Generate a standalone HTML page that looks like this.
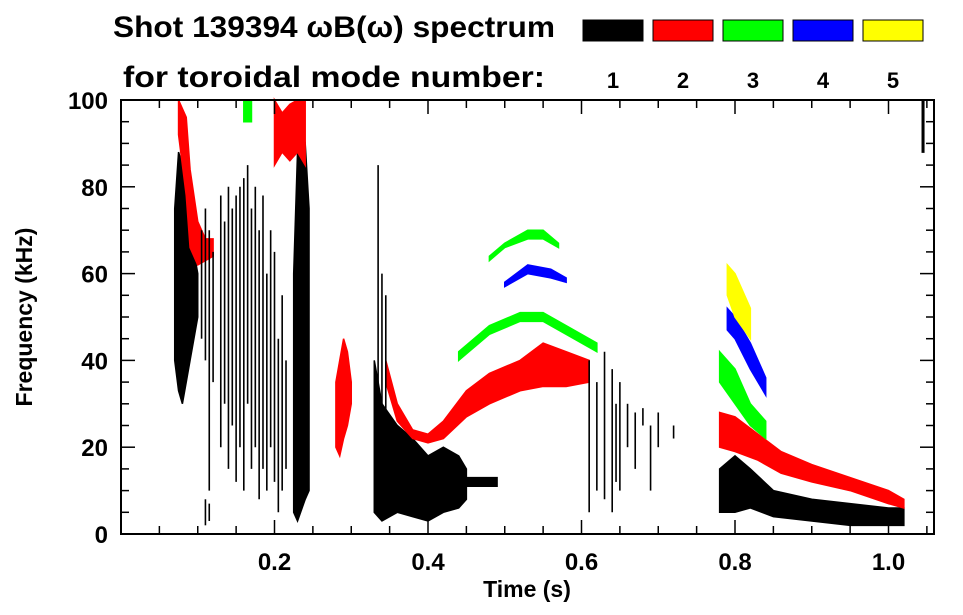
<!DOCTYPE html>
<html><head><meta charset="utf-8"><style>
body{margin:0;background:#fff;width:963px;height:615px;overflow:hidden}
svg{display:block;font-family:"Liberation Sans",sans-serif;font-weight:bold}
</style></head><body>
<svg id="c" width="963" height="615">
<text x="113" y="37" font-size="30" textLength="442" lengthAdjust="spacingAndGlyphs">Shot 139394 ωB(ω) spectrum</text>
<text x="123" y="87" font-size="30" textLength="422" lengthAdjust="spacingAndGlyphs">for toroidal mode number:</text>
<g id="legend"></g>
<g id="plot"></g>
<g id="axes"></g>
<text x="527" y="597" font-size="23" text-anchor="middle">Time (s)</text>
<text transform="translate(32,317) rotate(-90)" font-size="23" text-anchor="middle">Frequency (kHz)</text>
</svg>
<script>
const modes=["1","2","3","4","5"];
const modeColors=["#000","#f00","#0f0","#00f","#ff0"];
const xTicks=[0.2,0.4,0.6,0.8,1.0];
const yTicks=[0,20,40,60,80,100];
// bands: [mode, times, lo, hi]
const bandMode=[0,0,0,0,0,1,1,1,1,1,2,2,2,2,3,3,4,0];
const bandTimes=[
[0.07,0.075,0.08,0.085,0.09,0.095,0.10],
[0.225,0.23,0.24,0.245],
[0.33,0.34,0.36,0.38,0.40,0.42,0.44,0.45],
[0.45,0.47,0.49],
[0.78,0.8,0.82,0.85,0.9,0.95,1.0,1.02],
[0.075,0.085,0.09,0.10,0.11,0.12],
[0.20,0.21,0.22,0.23,0.24],
[0.28,0.285,0.29,0.295,0.30],
[0.345,0.36,0.38,0.40,0.42,0.45,0.48,0.52,0.55,0.58,0.61],
[0.78,0.8,0.83,0.86,0.9,0.95,1.0,1.02],
[0.44,0.48,0.52,0.55,0.58,0.62],
[0.48,0.5,0.53,0.55,0.57],
[0.78,0.8,0.82,0.84],
[0.16,0.165,0.17],
[0.5,0.53,0.56,0.58],
[0.79,0.8,0.82,0.84],
[0.79,0.8,0.82],
[1.044,1.045,1.046]];
const bandLo=[[40,33,30,35,40,45,50],[5,3,8,10],[5,3,5,4,3,5,6,8],[11,11,11],[5,5,6,4,3,2,2,2],
[92,78,66,62,63,64],[85,88,86,88,85],[20,18,22,25,30],[35,26,22,21,22,27,30,33,34,34,35],[20,19,17,14,12,10,7,6],
[40,46,49,49,46,42],[63,66,68,68,66],[35,30,25,22],[95,95,95],[57,60,59,58],[47,45,38,32],[55,50,45],[88,88,88]];
const bandHi=[[75,88,85,80,70,65,60],[60,88,90,75],[40,30,25,22,18,20,18,15],[13,13,13],[15,18,15,10,8,7,6,6],
[100,96,84,72,68,68],[100,97,99,100,100],[35,40,45,42,35],[40,30,24,23,26,33,37,40,44,42,40],[28,27,23,19,16,13,10,8],
[42,48,51,51,48,44],[64,67,70,70,67],[42,38,30,26],[100,100,100],[58,62,61,59],[52,50,44,36],[62,60,52],[100,100,100]];
// streaks: time, lo, hi (mode 1)
const streakT=[0.105,0.11,0.115,0.12,0.13,0.135,0.14,0.145,0.15,0.155,0.16,0.165,0.17,0.175,0.18,0.185,0.19,0.195,0.20,0.205,0.21,0.215,0.335,0.34,0.345,0.61,0.62,0.63,0.64,0.645,0.65,0.66,0.67,0.68,0.69,0.70,0.72,0.11,0.115];
const streakLo=[45,40,10,35,20,30,15,25,12,20,10,30,15,20,8,15,10,20,12,5,10,15,20,15,25,5,10,8,5,12,10,20,15,25,10,20,22,2,3];
const streakHi=[70,75,70,65,78,72,80,75,78,80,82,85,75,80,70,78,60,70,65,45,55,40,85,60,55,40,35,42,38,30,35,30,28,29,25,28,25,8,7];
const NS="http://www.w3.org/2000/svg";
const X0=121,X1=934,Y0=534,Y1=100,TMAX=(934-121)/767.5;
const xs=t=>X0+t/TMAX*(X1-X0), ys=f=>Y0-f/100*(Y0-Y1);
const plot=document.getElementById('plot'),axes=document.getElementById('axes'),leg=document.getElementById('legend');
function mk(tag,a,p){const e=document.createElementNS(NS,tag);for(const k in a)e.setAttribute(k,a[k]);p.appendChild(e);return e;}
modes.forEach((m,i)=>{
 const r=mk('rect',{x:583+i*70,y:20,width:60,height:21,fill:modeColors[i],stroke:'#000','stroke-width':1},leg);
 
 
 const t=mk('text',{x:613+i*70,y:88,'font-size':22,'text-anchor':'middle'},leg);t.textContent=m;
 
 
});
bandTimes.forEach((ts,i)=>{
 const top=ts.map((t,j)=>xs(t)+','+ys(bandHi[i][j]));
 const bot=ts.map((t,j)=>xs(t)+','+ys(bandLo[i][j])).reverse();
 const p=mk('polygon',{points:top.concat(bot).join(' '),fill:modeColors[bandMode[i]],stroke:modeColors[bandMode[i]],'stroke-width':1.5},plot);
 
 
});
streakT.forEach((t,i)=>{
 const l=mk('line',{x1:xs(t),x2:xs(t),y1:ys(streakLo[i]),y2:ys(streakHi[i]),stroke:'#000','stroke-width':1.6},plot);
 
 
});
mk('rect',{x:X0,y:Y1,width:X1-X0,height:Y0-Y1,fill:'none',stroke:'#000','stroke-width':2},axes);
for(let t=0.05;t<TMAX;t+=0.05){const x=xs(t),maj=Math.abs(t/0.2-Math.round(t/0.2))<1e-6;const L=maj?14:8;
 mk('line',{x1:x,x2:x,y1:Y0,y2:Y0-L,stroke:'#000','stroke-width':1.5},axes);
 mk('line',{x1:x,x2:x,y1:Y1,y2:Y1+L,stroke:'#000','stroke-width':1.5},axes);}
for(let f=5;f<100;f+=5){const y=ys(f),L=f%20==0?14:8;
 mk('line',{x1:X0,x2:X0+L,y1:y,y2:y,stroke:'#000','stroke-width':1.5},axes);
 mk('line',{x1:X1,x2:X1-L,y1:y,y2:y,stroke:'#000','stroke-width':1.5},axes);}
xTicks.forEach(t=>{const e=mk('text',{x:xs(t),y:570,'font-size':24,'text-anchor':'middle'},axes);e.textContent=t.toFixed(1);
 
 });
yTicks.forEach(f=>{const e=mk('text',{x:108,y:ys(f)+9,'font-size':24,'text-anchor':'end'},axes);e.textContent=f;
 
 });
</script>
</body></html>
